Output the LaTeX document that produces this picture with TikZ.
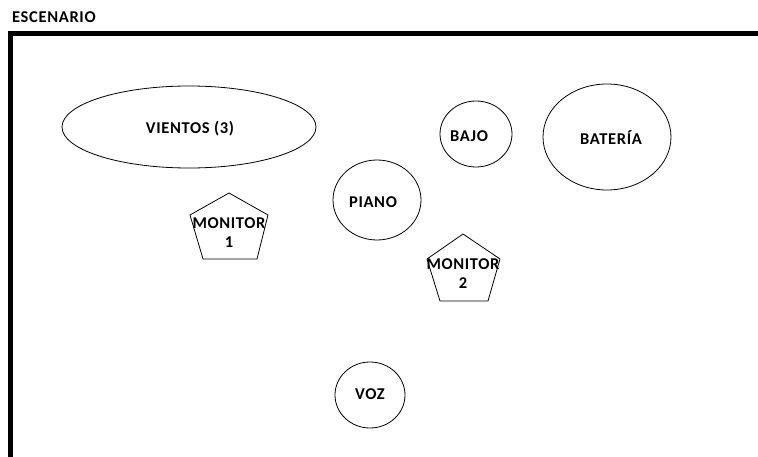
\documentclass[tikz,border=0pt]{standalone}
\usepackage{fontspec}
\setmainfont{Carlito}[LetterSpace=4]
\begin{document}
\begin{tikzpicture}[x=1pt,y=-1pt,
  shp/.style={draw,line width=0.8pt},
  lbl/.style={font=\fontsize{16.5}{19}\selectfont\bfseries, inner sep=0pt},
  wall/.style={line width=5pt}]
\useasboundingbox (0,0) rectangle (758,457);
\node[lbl,anchor=west] (esc) at (12,17) {ESCENARIO};
\coordinate (tl) at (10.5,33.5);
\coordinate (tr) at (758,33.5);
\coordinate (bl) at (10.5,457);
\draw[wall] (tr) -- (tl) -- (bl);
% ellipses
\draw[shp] (189,127) ellipse[x radius=127,y radius=41];
\node[lbl] (vientos) at (190,129) {VIENTOS (3)};
\draw[shp] (476,134) ellipse[x radius=36,y radius=33];
\node[lbl] (bajo) at (469,136) {BAJO};
\draw[shp] (607,137) ellipse[x radius=64,y radius=53];
\node[lbl] (bateria) at (611,138) {BATERÍA};
\draw[shp] (377,200) ellipse[x radius=44,y radius=40];
\node[lbl] (piano) at (373,202) {PIANO};
\draw[shp] (370,395) ellipse[x radius=35,y radius=33];
\node[lbl] (voz) at (370,394) {VOZ};
% monitors
\draw[shp] (229,193) -- (268,215) -- (257,259) -- (203,259) -- (190,215) -- cycle;
\node[lbl,align=center] (m1) at (229,233) {MONITOR\\1};
\draw[shp] (463,234) -- (500,259) -- (488,301) -- (440,301) -- (427,259) -- cycle;
\node[lbl,align=center] (m2) at (463,274) {MONITOR\\2};
\end{tikzpicture}
\end{document}
